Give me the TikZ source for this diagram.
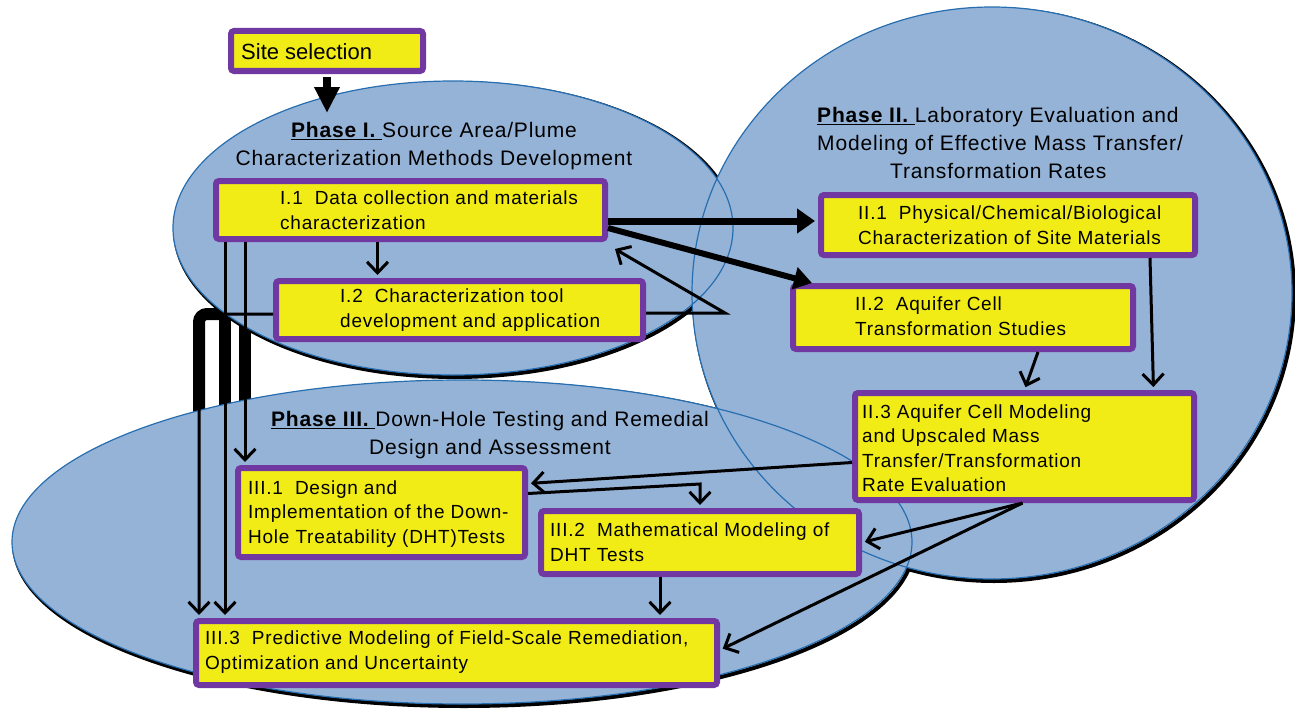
\documentclass[tikz,border=0pt]{standalone}
\usepackage{fontspec}
\setmainfont{Liberation Sans}
\newfontfamily\lsp[LetterSpace=4]{Liberation Sans}
\usetikzlibrary{arrows.meta}
\pgfdeclarelayer{lzero}
\pgfdeclarelayer{lone}
\pgfdeclarelayer{ltwo}
\pgfsetlayers{lzero,lone,ltwo,main}
\definecolor{ellfill}{RGB}{149,179,215}
\definecolor{ellline}{RGB}{38,110,175}
\definecolor{boxpurple}{RGB}{112,56,160}
\definecolor{boxyellow}{RGB}{242,236,22}
\begin{document}
\begin{tikzpicture}[x=1pt,y=-1pt,
  box/.style={draw=boxpurple,line width=6pt,fill=boxyellow,rounded corners=3pt,inner sep=0pt},
  btext/.style={anchor=west,align=left,inner sep=0pt,font=\fontsize{19}{24.5}\selectfont\lsp},
  ttext/.style={inner sep=0pt,font=\fontsize{21}{28}\selectfont\lsp},
  conn/.style={line width=3pt,shorten >=3pt,-{Straight Barb[length=11pt,width=21pt]}},
  cshadow/.style={line width=12pt},
  ellshadow/.style={line width=4pt,draw=black},
  ellborder/.style={line width=1.2pt,draw=ellline},
]
\useasboundingbox (0,0) rectangle (1295,709);

% ---- boxes ----
\node[box,minimum width=192pt,minimum height=40pt] (b0) at (327,51) {};
\node[box,minimum width=389pt,minimum height=58pt] (b11) at (410.5,210) {};
\node[box,minimum width=367pt,minimum height=58pt] (b12) at (459.5,310) {};
\node[box,minimum width=374pt,minimum height=60pt] (b21) at (1008,225) {};
\node[box,minimum width=340pt,minimum height=63pt] (b22) at (963,317.5) {};
\node[box,minimum width=339pt,minimum height=107pt] (b23) at (1024.5,446.5) {};
\node[box,minimum width=287pt,minimum height=89pt] (b31) at (381.5,512.5) {};
\node[box,minimum width=318pt,minimum height=63pt] (b32) at (700,542.5) {};
\node[box,minimum width=521pt,minimum height=64pt] (b33) at (456.5,653) {};

% ---- box texts ----
\node[anchor=west,inner sep=0pt,font=\fontsize{22}{26}\selectfont] (t0) at (241,52) {Site selection};
\node[btext] (t11) at (280,210) {I.1\ \ Data collection and materials\\characterization};
\node[btext] (t12) at (340,310) {I.2\ \ Characterization tool\\development and application};
\node[btext] (t21) at (858,225) {II.1\ \ Physical/Chemical/Biological\\Characterization of Site Materials};
\node[btext] (t22) at (855,316) {II.2\ \ Aquifer Cell\\Transformation Studies};
\node[btext] (t23) at (862,448) {II.3 Aquifer Cell Modeling\\and Upscaled Mass\\Transfer/Transformation\\Rate Evaluation};
\node[btext] (t31) at (248,514) {III.1\ \ Design and\\Implementation of the Down-\\Hole Treatability (DHT)Tests};
\node[btext] (t32) at (550,542) {III.2\ \ Mathematical Modeling of\\DHT Tests};
\node[btext] (t33) at (205,652) {III.3\ \ Predictive Modeling of Field-Scale Remediation,\\Optimization and Uncertainty};

% ---- phase titles ----
\node[ttext,align=center] (p1) at (434,146) {\underline{\bfseries Phase I.\ }Source Area/Plume\\Characterization Methods Development};
\node[ttext,align=left,anchor=west] (p2) at (817,143) {\underline{\bfseries Phase II.\ }Laboratory Evaluation and\\Modeling of Effective Mass Transfer/\\\hspace*{73pt}Transformation Rates};
\node[ttext,align=center] (p3) at (490,435) {\underline{\bfseries Phase III.\ }Down-Hole Testing and Remedial\\Design and Assessment};

% ---- helper coordinates ----
\coordinate (s0) at (327,113);
\coordinate (s1) at ([xshift=12pt]b11.south west);
\coordinate (s2) at ([xshift=32pt]b11.south west);
\coordinate (s3) at ([xshift=6pt]b33.north west);
\coordinate (a1) at ([yshift=-11pt]b11.east);
\coordinate (a2) at ([yshift=-18pt]b11.east);
\coordinate (a3) at ([xshift=22pt]b22.north west);
\coordinate (a4) at ([xshift=7pt,yshift=-7pt]b11.south east);
\coordinate (a5) at ([xshift=-33pt]b11.south);
\coordinate (a6) at ([xshift=-40pt]b32.south);
\coordinate (k1) at (725,313);
\coordinate (k2) at (700,484);

% ---- ellipses (background layers) ----
\begin{pgfonlayer}{lzero}
  \draw[ellshadow] (455,230) ellipse [x radius=280pt,y radius=147pt];
  \draw[ellshadow] (994,295) ellipse [x radius=300pt,y radius=286pt];
  \draw[ellshadow] (464,544) ellipse [x radius=450pt,y radius=162pt];
\end{pgfonlayer}
\begin{pgfonlayer}{lone}
  \draw[cshadow,rounded corners=8pt] ([yshift=-4pt]b12.west) -| (s3);
  \draw[cshadow] (s1) -- (s1 |- b33.north);
  \draw[cshadow] (s2) -- (s2 |- b31.north);
\end{pgfonlayer}
\begin{pgfonlayer}{ltwo}
  \fill[ellfill] (453,228) ellipse [x radius=280pt,y radius=147pt];
  \fill[ellfill] (992,293) ellipse [x radius=300pt,y radius=286pt];
  \fill[ellfill] (462,542) ellipse [x radius=450pt,y radius=162pt];
  \draw[ellborder] (453,228) ellipse [x radius=280pt,y radius=147pt];
  \draw[ellborder] (992,293) ellipse [x radius=300pt,y radius=286pt];
  \draw[ellborder] (462,542) ellipse [x radius=450pt,y radius=162pt];
\end{pgfonlayer}

% ---- connectors ----
\draw[line width=8pt,-{Triangle[length=26pt,width=24pt]}] ([yshift=-3pt]b0.south) -- (s0);
\draw[line width=7pt,shorten >=3pt,-{Triangle[length=18pt,width=24pt]}] (a1) -- (a1 -| b21.west);
\draw[line width=6pt,-{Triangle[length=18pt,width=22pt]}] (a2) -- (a3);
\draw[conn,shorten >=0pt] ([yshift=-3pt]b12.east) -- (k1) -- (a4);
\draw[conn] (a5) -- (a5 |- b12.north);
\draw[conn,rounded corners=8pt] ([yshift=-4pt]b12.west) -| (s3);
\draw[conn] (s1) -- (s1 |- b33.north);
\draw[conn] (s2) -- (s2 |- b31.north);
\draw[conn] ([xshift=142pt]b21.south) -- ([xshift=129pt]b23.north);
\draw[conn] ([xshift=75pt]b22.south) -- (b23.north);
\draw[conn] ([yshift=-16pt]b23.west) -- ([yshift=29pt]b31.east);
\draw[conn] ([yshift=19pt]b31.east) -- (k2) -- (b32.north);
\draw[conn] ([xshift=-2pt]b23.south) -- (b32.east);
\draw[conn] ([xshift=-2pt]b23.south) -- ([yshift=3pt]b33.east);
\draw[conn] (a6) -- (a6 |- b33.north);
\end{tikzpicture}
\end{document}
